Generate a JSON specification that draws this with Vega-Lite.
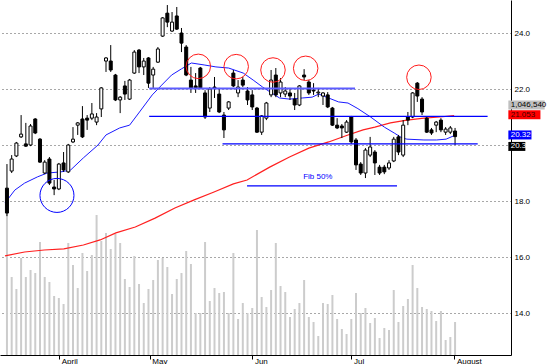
{
  "$schema": "https://vega.github.io/schema/vega-lite/v6.json",
  "width": 511,
  "height": 355,
  "autosize": {"type": "none"},
  "padding": {"left": 0, "top": 0, "right": 39, "bottom": 9},
  "background": "white",
  "config": {"view": {"stroke": null}, "font": "Liberation Sans", "axis": {"title": null}},
  "datasets": {
    "candles": [
      {"i":0,"o":18.46,"h":19.32,"l":17.46,"c":17.57,"v":5233},
      {"i":1,"o":19.07,"h":19.64,"l":19.00,"c":19.50,"v":2474},
      {"i":2,"o":19.61,"h":20.11,"l":19.57,"c":20.07,"v":2093},
      {"i":3,"o":20.29,"h":21.07,"l":20.25,"c":20.39,"v":3076},
      {"i":4,"o":20.04,"h":20.79,"l":19.93,"c":19.96,"v":2474},
      {"i":5,"o":20.00,"h":20.75,"l":19.96,"c":20.68,"v":2696},
      {"i":6,"o":20.93,"h":20.96,"l":20.39,"c":20.43,"v":2600},
      {"i":7,"o":20.21,"h":20.25,"l":19.36,"c":19.39,"v":3584},
      {"i":8,"o":19.00,"h":19.46,"l":18.96,"c":19.39,"v":2474},
      {"i":9,"o":19.50,"h":19.57,"l":18.57,"c":18.64,"v":2315},
      {"i":10,"o":18.50,"h":18.75,"l":18.21,"c":18.43,"v":1871},
      {"i":11,"o":18.43,"h":19.36,"l":18.39,"c":19.32,"v":1808},
      {"i":12,"o":19.36,"h":19.75,"l":19.04,"c":19.11,"v":1617},
      {"i":13,"o":19.04,"h":20.04,"l":19.00,"c":20.00,"v":3552},
      {"i":14,"o":20.11,"h":20.64,"l":20.07,"c":20.21,"v":2854},
      {"i":15,"o":20.71,"h":20.82,"l":20.36,"c":20.79,"v":2125},
      {"i":16,"o":20.93,"h":21.39,"l":20.25,"c":20.29,"v":3235},
      {"i":17,"o":20.96,"h":21.07,"l":20.54,"c":20.89,"v":2664},
      {"i":18,"o":20.96,"h":21.50,"l":20.89,"c":21.11,"v":3171},
      {"i":19,"o":20.82,"h":21.14,"l":20.71,"c":21.00,"v":4440},
      {"i":20,"o":21.29,"h":22.07,"l":21.00,"c":22.04,"v":3615},
      {"i":21,"o":23.00,"h":23.14,"l":22.61,"c":23.11,"v":3869},
      {"i":22,"o":23.00,"h":23.57,"l":22.61,"c":22.68,"v":3362},
      {"i":23,"o":22.50,"h":22.54,"l":21.57,"c":21.61,"v":3837},
      {"i":24,"o":21.61,"h":21.75,"l":21.14,"c":21.71,"v":3552},
      {"i":25,"o":22.11,"h":22.29,"l":21.61,"c":21.82,"v":2410},
      {"i":26,"o":21.64,"h":22.36,"l":21.61,"c":22.32,"v":2156},
      {"i":27,"o":22.57,"h":23.39,"l":22.54,"c":23.32,"v":3140},
      {"i":28,"o":23.39,"h":23.43,"l":22.57,"c":22.79,"v":2252},
      {"i":29,"o":22.79,"h":23.11,"l":22.50,"c":23.00,"v":1649},
      {"i":30,"o":23.11,"h":23.14,"l":22.04,"c":22.21,"v":2093},
      {"i":31,"o":22.50,"h":22.79,"l":22.04,"c":22.71,"v":2378},
      {"i":32,"o":22.96,"h":23.50,"l":22.93,"c":23.43,"v":3013},
      {"i":33,"o":23.89,"h":24.57,"l":23.86,"c":24.54,"v":3076},
      {"i":34,"o":24.71,"h":25.00,"l":24.21,"c":24.39,"v":2791},
      {"i":35,"o":24.07,"h":24.75,"l":24.04,"c":24.39,"v":1934},
      {"i":36,"o":24.61,"h":24.93,"l":24.11,"c":24.14,"v":2410},
      {"i":37,"o":24.00,"h":24.18,"l":23.32,"c":23.64,"v":2600},
      {"i":38,"o":23.50,"h":23.57,"l":22.46,"c":22.50,"v":3298},
      {"i":39,"o":22.32,"h":22.79,"l":21.86,"c":22.04,"v":2886},
      {"i":40,"o":22.11,"h":22.57,"l":21.86,"c":22.04,"v":1332},
      {"i":41,"o":22.75,"h":22.79,"l":22.00,"c":22.04,"v":1332},
      {"i":42,"o":21.86,"h":21.96,"l":20.93,"c":21.00,"v":3584},
      {"i":43,"o":21.32,"h":22.07,"l":21.18,"c":22.00,"v":1713},
      {"i":44,"o":22.07,"h":22.43,"l":21.68,"c":22.04,"v":2125},
      {"i":45,"o":21.82,"h":22.04,"l":21.14,"c":21.18,"v":1966},
      {"i":46,"o":21.07,"h":21.18,"l":20.25,"c":20.54,"v":1998},
      {"i":47,"o":21.32,"h":21.57,"l":21.25,"c":21.54,"v":1332},
      {"i":48,"o":22.57,"h":22.68,"l":22.07,"c":22.11,"v":3235},
      {"i":49,"o":21.86,"h":22.32,"l":21.71,"c":22.07,"v":1142},
      {"i":50,"o":22.32,"h":22.43,"l":22.07,"c":22.14,"v":1649},
      {"i":51,"o":21.93,"h":22.07,"l":21.43,"c":21.61,"v":1332},
      {"i":52,"o":21.79,"h":21.96,"l":21.25,"c":21.36,"v":1491},
      {"i":53,"o":21.32,"h":21.36,"l":20.43,"c":20.46,"v":3964},
      {"i":54,"o":20.46,"h":21.07,"l":20.36,"c":21.04,"v":1839},
      {"i":55,"o":20.96,"h":21.54,"l":20.89,"c":21.50,"v":1522},
      {"i":56,"o":21.79,"h":22.68,"l":21.71,"c":22.32,"v":2061},
      {"i":57,"o":22.50,"h":22.75,"l":21.71,"c":21.79,"v":3552},
      {"i":58,"o":21.86,"h":22.39,"l":21.71,"c":22.25,"v":2188},
      {"i":59,"o":21.82,"h":22.07,"l":21.71,"c":21.93,"v":1998},
      {"i":60,"o":21.86,"h":22.04,"l":21.61,"c":21.75,"v":1205},
      {"i":61,"o":21.64,"h":21.86,"l":21.25,"c":21.43,"v":1459},
      {"i":62,"o":21.43,"h":22.14,"l":21.39,"c":22.11,"v":1649},
      {"i":63,"o":22.50,"h":22.71,"l":22.32,"c":22.43,"v":2378},
      {"i":64,"o":22.25,"h":22.32,"l":21.79,"c":21.86,"v":1205},
      {"i":65,"o":21.96,"h":22.21,"l":21.79,"c":21.93,"v":1047},
      {"i":66,"o":21.86,"h":22.04,"l":21.71,"c":21.89,"v":603},
      {"i":67,"o":21.75,"h":21.89,"l":21.43,"c":21.86,"v":1649},
      {"i":68,"o":21.79,"h":21.89,"l":21.32,"c":21.36,"v":1617},
      {"i":69,"o":21.32,"h":21.36,"l":20.68,"c":20.71,"v":1903},
      {"i":70,"o":20.71,"h":20.96,"l":20.57,"c":20.61,"v":1142},
      {"i":71,"o":20.68,"h":20.75,"l":20.25,"c":20.61,"v":825},
      {"i":72,"o":20.46,"h":20.89,"l":20.43,"c":20.82,"v":666},
      {"i":73,"o":21.00,"h":21.04,"l":20.04,"c":20.11,"v":1142},
      {"i":74,"o":20.18,"h":20.25,"l":19.11,"c":19.29,"v":1966},
      {"i":75,"o":19.32,"h":19.39,"l":18.93,"c":19.00,"v":1332},
      {"i":76,"o":19.00,"h":19.89,"l":18.82,"c":19.82,"v":1491},
      {"i":77,"o":19.64,"h":20.29,"l":19.57,"c":19.93,"v":1015},
      {"i":78,"o":19.75,"h":19.82,"l":18.93,"c":19.36,"v":1173},
      {"i":79,"o":19.21,"h":19.29,"l":18.93,"c":19.00,"v":539},
      {"i":80,"o":19.21,"h":19.29,"l":18.96,"c":19.04,"v":856},
      {"i":81,"o":19.18,"h":19.46,"l":19.11,"c":19.36,"v":793},
      {"i":82,"o":19.43,"h":20.29,"l":19.39,"c":20.21,"v":2061},
      {"i":83,"o":20.29,"h":20.36,"l":19.64,"c":19.75,"v":1047},
      {"i":84,"o":19.64,"h":20.89,"l":19.57,"c":20.71,"v":1554},
      {"i":85,"o":21.00,"h":21.18,"l":20.71,"c":20.89,"v":1776},
      {"i":86,"o":21.00,"h":21.89,"l":20.96,"c":21.86,"v":2854},
      {"i":87,"o":22.21,"h":22.25,"l":21.54,"c":21.75,"v":2125},
      {"i":88,"o":21.64,"h":21.71,"l":21.07,"c":21.18,"v":1522},
      {"i":89,"o":20.96,"h":21.00,"l":20.43,"c":20.46,"v":1459},
      {"i":90,"o":20.54,"h":20.61,"l":20.36,"c":20.43,"v":1395},
      {"i":91,"o":20.71,"h":20.86,"l":20.46,"c":20.82,"v":1078},
      {"i":92,"o":20.89,"h":20.96,"l":20.46,"c":20.54,"v":1395},
      {"i":93,"o":20.46,"h":20.64,"l":20.36,"c":20.57,"v":476},
      {"i":94,"o":20.46,"h":20.68,"l":20.39,"c":20.61,"v":571},
      {"i":95,"o":20.50,"h":20.61,"l":20.00,"c":20.30,"v":1046.54}
    ],
    "blue": [
      {"i":-0.42,"p":17.93},{"i":1.66,"p":18.39},{"i":3.74,"p":18.64},{"i":6.44,"p":18.86},
      {"i":8.52,"p":19.00},{"i":11.43,"p":19.04},{"i":13.51,"p":19.11},{"i":16.2,"p":19.54},
      {"i":19.3,"p":20.0},{"i":21.0,"p":20.36},{"i":23.9,"p":20.61},{"i":26.0,"p":20.71},
      {"i":28.1,"p":21.18},{"i":30.8,"p":21.79},{"i":32.8,"p":22.14},{"i":34.9,"p":22.5},
      {"i":37.0,"p":22.72},{"i":39.1,"p":22.93},{"i":41.8,"p":22.86},{"i":44.3,"p":22.79},
      {"i":47.0,"p":22.75},{"i":50.1,"p":22.57},{"i":52.2,"p":22.32},{"i":54.2,"p":22.07},
      {"i":56.1,"p":21.86},{"i":57.8,"p":21.68},{"i":59.9,"p":21.64},{"i":62.6,"p":21.68},
      {"i":64.7,"p":21.71},{"i":66.1,"p":21.82},{"i":68.2,"p":21.68},{"i":70.3,"p":21.54},
      {"i":72.3,"p":21.5},{"i":74.4,"p":21.3},{"i":77.1,"p":21.0},{"i":80.0,"p":20.64},
      {"i":82.1,"p":20.43},{"i":83.8,"p":20.25},{"i":84.8,"p":20.21},{"i":88.4,"p":20.18},
      {"i":91.1,"p":20.18},{"i":93.1,"p":20.21},{"i":94.6,"p":20.32}
    ],
    "red": [
      {"i":-0.42,"p":16.04},{"i":3.74,"p":16.18},{"i":7.9,"p":16.25},{"i":12.06,"p":16.29},
      {"i":16.2,"p":16.43},{"i":19.75,"p":16.61},{"i":23.1,"p":16.86},{"i":27.2,"p":17.07},
      {"i":31.4,"p":17.39},{"i":35.6,"p":17.75},{"i":39.7,"p":18.04},{"i":43.9,"p":18.32},
      {"i":48.0,"p":18.61},{"i":50.9,"p":18.75},{"i":55.7,"p":19.21},{"i":59.9,"p":19.57},
      {"i":64.0,"p":19.89},{"i":68.2,"p":20.11},{"i":72.3,"p":20.36},{"i":75.5,"p":20.54},
      {"i":78.0,"p":20.64},{"i":81.3,"p":20.79},{"i":84.8,"p":20.89},{"i":88.4,"p":20.96},
      {"i":91.7,"p":21.0},{"i":94.8,"p":21.053}
    ],
    "levels": [
      {"x1":30.15,"x2":73.8,"p":22.02,"k":"top"},
      {"x1":30.15,"x2":101.9,"p":21.02,"k":"mid"},
      {"x1":45.7,"x2":99.8,"p":20.04,"k":"low"},
      {"x1":50.9,"x2":82.7,"p":18.54,"k":"fib"}
    ],
    "circles": [
      {"i":40.57,"p":22.81,"k":"top"},
      {"i":48.6,"p":22.8,"k":"top"},
      {"i":56.4,"p":22.68,"k":"top"},
      {"i":63.33,"p":22.74,"k":"top"},
      {"i":87.34,"p":22.42,"k":"top"},
      {"i":10.6,"p":18.2,"k":"bottom"}
    ]
  },
  "layer": [
    {
      "data": {"name": "candles"},
      "mark": {"type": "bar", "width": 2, "color": "#cccccc"},
      "encoding": {
        "x": {
          "field": "i", "type": "quantitative", "title": null,
          "scale": {"domain": [-0.416, 105.8], "nice": false, "zero": false},
          "axis": {
            "orient": "bottom", "title": null, "grid": false,
            "values": [11.08, 30.29, 52.04, 73.03, 94.86],
            "labelExpr": "datum.value < 20 ? 'April' : datum.value < 40 ? 'May' : datum.value < 60 ? 'Jun' : datum.value < 80 ? 'Jul' : 'August'",
            "domainColor": "#000000", "domainWidth": 1,
            "tickColor": "#000000", "tickSize": 4, "tickWidth": 1,
            "labelAlign": "left", "labelBaseline": "top", "labelPadding": -2,
            "labelOffset": 2, "labelFlush": false, "labelOverlap": false,
            "labelFontSize": 8, "labelColor": "#000000"
          }
        },
        "y": {
          "field": "v", "type": "quantitative", "title": null,
          "scale": {"domain": [0, 11258], "nice": false, "zero": true},
          "axis": null
        }
      }
    },
    {
      "layer": [
        {
          "data": {"name": "red"},
          "mark": {"type": "line", "color": "#ff2020", "strokeWidth": 1.2},
          "encoding": {
            "x": {"field": "i", "type": "quantitative", "title": null, "scale": {"domain": [-0.416, 105.8], "nice": false, "zero": false}},
            "y": {
              "field": "p", "type": "quantitative", "title": null,
              "scale": {"domain": [12.5, 25.18], "nice": false, "zero": false},
              "axis": {
                "orient": "right", "title": null,
                "values": [14, 16, 18, 20, 22, 24],
                "format": ".1f",
                "labelExpr": "datum.value == 20 ? '' : datum.label",
                "grid": true, "gridDash": [1, 3], "gridColor": "#505050", "gridWidth": 1,
                "domainColor": "#000000", "domainWidth": 1,
                "ticks": false, "labelPadding": 3,
                "labelFontSize": 8, "labelColor": "#000000", "labelBaseline": "middle"
              }
            }
          }
        },
        {
          "data": {"name": "blue"},
          "mark": {"type": "line", "color": "#1a1aff", "strokeWidth": 1},
          "encoding": {
            "x": {"field": "i", "type": "quantitative", "title": null, "scale": {"domain": [-0.416, 105.8], "nice": false, "zero": false}},
            "y": {"field": "p", "type": "quantitative", "title": null, "scale": {"domain": [12.5, 25.18], "nice": false, "zero": false}}
          }
        },
        {
          "data": {"name": "candles"},
          "mark": {"type": "rule", "color": "#000000", "strokeWidth": 1},
          "encoding": {
            "x": {"field": "i", "type": "quantitative", "title": null, "scale": {"domain": [-0.416, 105.8], "nice": false, "zero": false}},
            "y": {"field": "l", "type": "quantitative", "title": null, "scale": {"domain": [12.5, 25.18], "nice": false, "zero": false}},
            "y2": {"field": "h"}
          }
        },
        {
          "data": {"name": "candles"},
          "mark": {"type": "bar", "width": 3, "stroke": "#000000", "strokeWidth": 1},
          "encoding": {
            "x": {"field": "i", "type": "quantitative", "title": null, "scale": {"domain": [-0.416, 105.8], "nice": false, "zero": false}},
            "y": {"field": "o", "type": "quantitative", "title": null, "scale": {"domain": [12.5, 25.18], "nice": false, "zero": false}},
            "y2": {"field": "c"},
            "fill": {"condition": {"test": "datum.c >= datum.o", "value": "#ffffff"}, "value": "#000000"}
          }
        },
        {
          "data": {"name": "levels"},
          "mark": {"type": "rule"},
          "encoding": {
            "x": {"field": "x1", "type": "quantitative", "title": null, "scale": {"domain": [-0.416, 105.8], "nice": false, "zero": false}},
            "x2": {"field": "x2"},
            "y": {"field": "p", "type": "quantitative", "title": null, "scale": {"domain": [12.5, 25.18], "nice": false, "zero": false}},
            "color": {"condition": {"test": "datum.k == 'top'", "value": "#5c5cff"}, "value": "#0000ff"},
            "strokeWidth": {"condition": {"test": "datum.k == 'top'", "value": 2}, "value": 1.3}
          }
        },
        {
          "data": {"name": "circles"},
          "mark": {"type": "point", "shape": "circle", "filled": false, "strokeWidth": 1, "opacity": 1},
          "encoding": {
            "x": {"field": "i", "type": "quantitative", "title": null, "scale": {"domain": [-0.416, 105.8], "nice": false, "zero": false}},
            "y": {"field": "p", "type": "quantitative", "title": null, "scale": {"domain": [12.5, 25.18], "nice": false, "zero": false}},
            "stroke": {"condition": {"test": "datum.k == 'top'", "value": "#ff1a1a"}, "value": "#0000ff"},
            "size": {"condition": {"test": "datum.k == 'top'", "value": 600}, "value": 1156}
          }
        },
        {
          "data": {"values": [{"t": "Fib 50%"}]},
          "mark": {"type": "text", "color": "#0000ff", "fontSize": 8, "align": "center", "baseline": "middle"},
          "encoding": {
            "x": {"datum": 65.9, "type": "quantitative", "scale": {"domain": [-0.416, 105.8], "nice": false, "zero": false}},
            "y": {"datum": 18.86, "type": "quantitative", "scale": {"domain": [12.5, 25.18], "nice": false, "zero": false}},
            "text": {"field": "t"}
          }
        },
        {
          "data": {"values": [{"t": "1,046,540"}]},
          "mark": {"type": "rule", "color": "#c0c0c0", "strokeWidth": 9, "strokeCap": "butt"},
          "encoding": {
            "x": {"datum": 106.3, "type": "quantitative", "scale": {"domain": [-0.416, 105.8], "nice": false, "zero": false}},
            "x2": {"datum": 114.0},
            "y": {"datum": 21.43, "type": "quantitative", "scale": {"domain": [12.5, 25.18], "nice": false, "zero": false}}
          }
        },
        {
          "data": {"values": [{"t": "1,046,540"}]},
          "mark": {"type": "text", "color": "#000000", "fontSize": 8, "align": "left", "baseline": "middle"},
          "encoding": {
            "x": {"datum": 106.8, "type": "quantitative", "scale": {"domain": [-0.416, 105.8], "nice": false, "zero": false}},
            "y": {"datum": 21.43, "type": "quantitative", "scale": {"domain": [12.5, 25.18], "nice": false, "zero": false}},
            "text": {"field": "t"}
          }
        },
        {
          "data": {"values": [{"t": "21.053"}]},
          "mark": {"type": "rule", "color": "#ff0000", "strokeWidth": 9, "strokeCap": "butt"},
          "encoding": {
            "x": {"datum": 106.3, "type": "quantitative", "scale": {"domain": [-0.416, 105.8], "nice": false, "zero": false}},
            "x2": {"datum": 113.1},
            "y": {"datum": 21.08, "type": "quantitative", "scale": {"domain": [12.5, 25.18], "nice": false, "zero": false}}
          }
        },
        {
          "data": {"values": [{"t": "21.053"}]},
          "mark": {"type": "text", "color": "#400000", "fontSize": 8, "align": "left", "baseline": "middle"},
          "encoding": {
            "x": {"datum": 106.8, "type": "quantitative", "scale": {"domain": [-0.416, 105.8], "nice": false, "zero": false}},
            "y": {"datum": 21.08, "type": "quantitative", "scale": {"domain": [12.5, 25.18], "nice": false, "zero": false}},
            "text": {"field": "t"}
          }
        },
        {
          "data": {"values": [{"t": "20.32"}]},
          "mark": {"type": "rule", "color": "#0000ff", "strokeWidth": 9, "strokeCap": "butt"},
          "encoding": {
            "x": {"datum": 106.3, "type": "quantitative", "scale": {"domain": [-0.416, 105.8], "nice": false, "zero": false}},
            "x2": {"datum": 111.2},
            "y": {"datum": 20.36, "type": "quantitative", "scale": {"domain": [12.5, 25.18], "nice": false, "zero": false}}
          }
        },
        {
          "data": {"values": [{"t": "20.32"}]},
          "mark": {"type": "text", "color": "#ffffff", "fontSize": 8, "align": "left", "baseline": "middle"},
          "encoding": {
            "x": {"datum": 106.8, "type": "quantitative", "scale": {"domain": [-0.416, 105.8], "nice": false, "zero": false}},
            "y": {"datum": 20.36, "type": "quantitative", "scale": {"domain": [12.5, 25.18], "nice": false, "zero": false}},
            "text": {"field": "t"}
          }
        },
        {
          "data": {"values": [{"t": "20.3"}]},
          "mark": {"type": "rule", "color": "#000000", "strokeWidth": 9, "strokeCap": "butt"},
          "encoding": {
            "x": {"datum": 106.3, "type": "quantitative", "scale": {"domain": [-0.416, 105.8], "nice": false, "zero": false}},
            "x2": {"datum": 109.9},
            "y": {"datum": 19.95, "type": "quantitative", "scale": {"domain": [12.5, 25.18], "nice": false, "zero": false}}
          }
        },
        {
          "data": {"values": [{"t": "20.3"}]},
          "mark": {"type": "text", "color": "#ffffff", "fontSize": 8, "align": "left", "baseline": "middle"},
          "encoding": {
            "x": {"datum": 106.8, "type": "quantitative", "scale": {"domain": [-0.416, 105.8], "nice": false, "zero": false}},
            "y": {"datum": 19.95, "type": "quantitative", "scale": {"domain": [12.5, 25.18], "nice": false, "zero": false}},
            "text": {"field": "t"}
          }
        }
      ]
    }
  ],
  "resolve": {"scale": {"y": "independent"}}
}
